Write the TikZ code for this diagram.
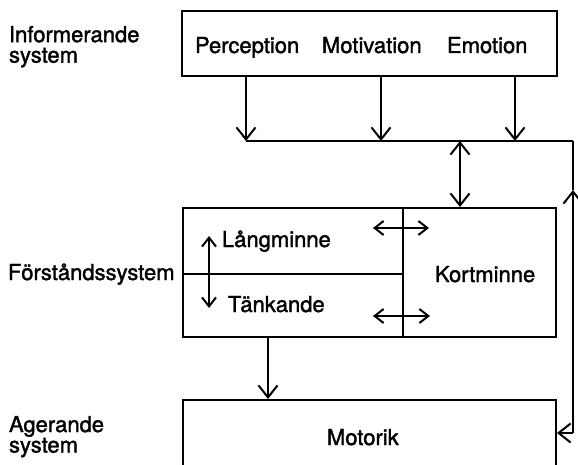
\documentclass[tikz,border=0pt]{standalone}
\usepackage{fontspec}
\setmainfont{TeX Gyre Heros}[FakeBold=1.6, AutoFakeBold=1.6]
\usetikzlibrary{arrows.meta}
\begin{document}
\begin{tikzpicture}[x=1pt,y=-1pt,
  line width=2pt,
  box/.style={draw, rectangle, inner sep=0pt, anchor=north west},
  lbl/.style={font=\fontsize{22}{20}\selectfont\bfseries, inner sep=0pt, anchor=base west},
  side/.style={font=\fontsize{22}{20.5}\selectfont\bfseries, inner sep=0pt, anchor=north west, align=left},
  big/.style={-{Straight Barb[length=12pt,width=19pt,line width=2pt]}},
  bigboth/.style={{Straight Barb[length=12pt,width=19pt,line width=2pt]}-{Straight Barb[length=12pt,width=19pt,line width=2pt]}},
  smallboth/.style={{Straight Barb[length=9pt,width=14pt,line width=2pt]}-{Straight Barb[length=9pt,width=14pt,line width=2pt]}}
]
\useasboundingbox (0,0) rectangle (578,465);
\clip (0,0) rectangle (578,465);
\fill[white] (0,0) rectangle (578,465);

% row labels
\node[side] (informerande) at (8,25) {Informerande\\system};
\node[lbl] (forstand) at (7,280) {Förståndssystem};
\node[side] (agerande) at (8,415) {Agerande\\system};

% informing system
\node[box, minimum width=375pt, minimum height=65pt] (info) at (181,10) {};
\node[lbl] (perc) at (194,53) {Perception};
\node[lbl] (motiv) at (321,53) {Motivation};
\node[lbl] (emot) at (446,53) {Emotion};

% cognitive system
\node[box, minimum width=220pt, minimum height=66pt] (lang) at (182,207) {};
\node[box, minimum width=220pt, minimum height=63pt] (tank) at (182,273) {};
\node[box, minimum width=153pt, minimum height=129pt] (kort) at (402,207) {};
\node[lbl] (langtxt) at (221,247) {Långminne};
\node[lbl] (tanktxt) at (227,312) {Tänkande};
\node[lbl] (korttxt) at (434,282) {Kortminne};

% acting system
\node[box, minimum width=373pt, minimum height=90pt] (motor) at (182,399) {};
\node[lbl] (motortxt) at (326,445) {Motorik};

% connector points
\coordinate (b1) at (246,141);
\coordinate (b2) at (381,141);
\coordinate (b3) at (515,141);
\coordinate (bk) at (460,141);
\coordinate (bE) at (573,141);
\coordinate (up) at (573,190);
\coordinate (cM) at (573,433);
\coordinate (lt) at (373,228);
\coordinate (rt) at (429,228);
\coordinate (lb) at (373,316);
\coordinate (rb) at (430,316);
\coordinate (vt) at (209,236);
\coordinate (vb) at (209,308);
\coordinate (dm) at (268,336);

% connectors
\draw[big] (info.south -| b1) -- (b1);
\draw[big] (info.south -| b2) -- (b2);
\draw[big] (info.south -| b3) -- (b3);
\draw (b1) -- (bE);
\draw (bE) -- (up);
\draw[big] (cM) -- (up);
\draw[big] (cM) -- (motor.east |- cM);
\draw[bigboth] (bk) -- (kort.north -| bk);
\draw[smallboth] (lt) -- (rt);
\draw[smallboth] (lb) -- (rb);
\draw[smallboth] (vt) -- (vb);
\draw[big] (dm) -- (motor.north -| dm);
\end{tikzpicture}
\end{document}
